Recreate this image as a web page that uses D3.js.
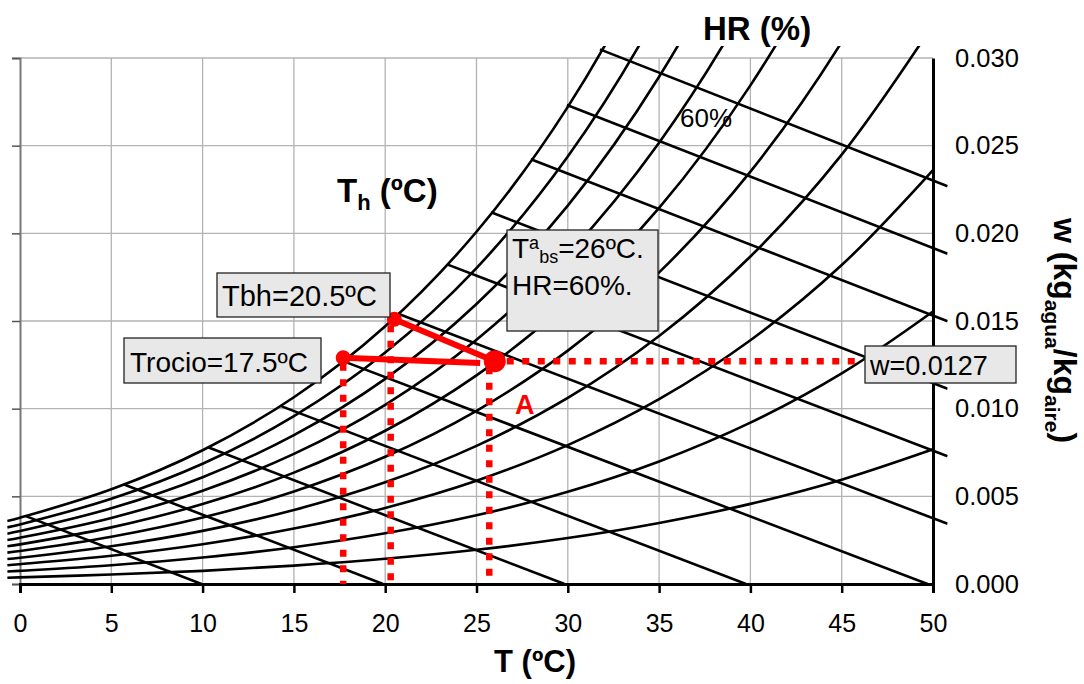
<!DOCTYPE html>
<html>
<head>
<meta charset="utf-8">
<script src="https://cdn.jsdelivr.net/npm/d3@7"></script>
<style>
  body { margin: 0; background: #fff; }
  svg { font-family: "Liberation Sans", Arial, sans-serif; }
  .grid line { stroke: #b3b3b3; stroke-width: 1.3; }
  .psy { fill: none; stroke: #000; stroke-width: 2.6; }
  .box { fill: #e8e8e8; stroke: #222; stroke-width: 1.3; }
</style>
</head>
<body>
<div id="chart"></div>
<script>
// dry bulb temperature grid (ºC) on which the HR curves are read
const tempGrid = [-0.7, 0, 5, 10, 15, 20, 25, 30, 35, 40, 45, 50];

// humidity ratio w (kg agua / kg aire) of each HR curve on tempGrid
const hr10 = [0.00036, 0.00038, 0.00054, 0.00075, 0.00105, 0.00144, 0.00195, 0.00262, 0.00348, 0.00457, 0.00595, 0.00768];
const hr20 = [0.00071, 0.00075, 0.00107, 0.00151, 0.00210, 0.00289, 0.00392, 0.00526, 0.00699, 0.00920, 0.01201, 0.01554];
const hr30 = [0.00107, 0.00113, 0.00161, 0.00227, 0.00316, 0.00434, 0.00589, 0.00792, 0.01054, 0.01390, 0.01819, 0.02361];
const hr40 = [0.00143, 0.00150, 0.00215, 0.00303, 0.00422, 0.00580, 0.00788, 0.01061, 0.01414, 0.01868, 0.02449, 0.03189];
const hr50 = [0.00179, 0.00188, 0.00269, 0.00379, 0.00528, 0.00726, 0.00988, 0.01331, 0.01777, 0.02352, 0.03091, 0.04037];
const hr60 = [0.00215, 0.00226, 0.00323, 0.00456, 0.00635, 0.00874, 0.01190, 0.01605, 0.02145, 0.02844, 0.03747, 0.04909];
const hr70 = [0.00251, 0.00264, 0.00377, 0.00532, 0.00742, 0.01022, 0.01393, 0.01880, 0.02517, 0.03344, 0.04416, 0.05803];
const hr80 = [0.00287, 0.00302, 0.00432, 0.00609, 0.00849, 0.01170, 0.01597, 0.02158, 0.02893, 0.03851, 0.05099, 0.06722];
const hr90 = [0.00323, 0.00340, 0.00486, 0.00686, 0.00957, 0.01320, 0.01802, 0.02438, 0.03274, 0.04367, 0.05795, 0.07666];
const hr100 = [0.00359, 0.00378, 0.00540, 0.00763, 0.01065, 0.01470, 0.02009, 0.02721, 0.03659, 0.04891, 0.06506, 0.08635];

// wet bulb (Th) lines: start on the saturation curve, end on w = 0 or past the right edge
const thStartT = [0.32, 5.70, 10.30, 14.26, 17.70, 20.71, 23.39, 25.80, 27.98, 29.95, 31.76];
const thStartW = [0.00387, 0.00567, 0.00780, 0.01016, 0.01271, 0.01541, 0.01823, 0.02120, 0.02423, 0.02732, 0.03049];
const thEndT = [9.94, 19.88, 29.82, 39.76, 49.70, 50.8, 50.8, 50.8, 50.8, 50.8, 50.8];
const thEndW = [0, 0, 0, 0, 0, 0.00343, 0.00728, 0.01113, 0.01499, 0.01884, 0.02269];

// state points: dew point, wet bulb, A
const pointT = [17.7, 20.5, 26.0];
const pointW = [0.0129, 0.0151, 0.0127];
const dropT = [17.7, 20.3, 25.7];
const wLineEndT = 46;

const xTicks = [0, 5, 10, 15, 20, 25, 30, 35, 40, 45, 50];
const yTicks = [0, 0.005, 0.010, 0.015, 0.020, 0.025, 0.030];

const hrCurves = [hr10, hr20, hr30, hr40, hr50, hr60, hr70, hr80, hr90, hr100];

const width = 1084, height = 684;
const font = '"Liberation Sans", Arial, sans-serif';

const svg = d3.select("#chart")
    .append("svg")
    .attr("width", width)
    .attr("height", height);

const x = d3.scaleLinear().domain([0, 50]).range([20, 933]);
const y = d3.scaleLinear().domain([0, 0.030]).range([584, 58]);

svg.append("defs").append("clipPath")
    .attr("id", "clip")
    .append("rect")
    .attr("x", x(-0.7)).attr("y", 46)
    .attr("width", x(50.8) - x(-0.7)).attr("height", y(0) - 46);

// grid
const grid = svg.append("g").attr("class", "grid");
grid.selectAll(".gx")
    .data(xTicks.slice(1, -1))
    .enter().append("line")
    .attr("x1", d => x(d)).attr("x2", d => x(d))
    .attr("y1", y(0.030)).attr("y2", y(0));
grid.selectAll(".gy")
    .data(yTicks.slice(1))
    .enter().append("line")
    .attr("x1", x(0)).attr("x2", x(50))
    .attr("y1", d => y(d)).attr("y2", d => y(d));

// left axis (ticks only)
const left = svg.append("g")
    .attr("transform", `translate(${x(0)},0)`)
    .call(d3.axisLeft(y).tickValues(yTicks).tickSize(8).tickFormat(""));
left.select(".domain").attr("stroke", "#777").attr("stroke-width", 2);
left.selectAll(".tick line").attr("stroke", "#555").attr("stroke-width", 1.5);

// HR curves and Th lines
const plot = svg.append("g").attr("clip-path", "url(#clip)");

const line = d3.line()
    .x((d, i) => x(tempGrid[i]))
    .y(d => y(d))
    .curve(d3.curveCatmullRom.alpha(0.5));

plot.selectAll(".hr")
    .data(hrCurves)
    .enter().append("path")
    .attr("class", "psy")
    .attr("d", d => line(d));

plot.selectAll(".th")
    .data(thStartT)
    .enter().append("line")
    .attr("class", "psy")
    .attr("x1", (d, i) => x(thStartT[i]))
    .attr("y1", (d, i) => y(thStartW[i]))
    .attr("x2", (d, i) => x(thEndT[i]))
    .attr("y2", (d, i) => y(thEndW[i]));

// bottom axis
const bottom = svg.append("g")
    .attr("transform", `translate(0,${y(0)})`)
    .call(d3.axisBottom(x).tickValues(xTicks).tickSize(9).tickPadding(21).tickFormat(d3.format("d")));
bottom.select(".domain").attr("stroke-width", 3);
bottom.selectAll(".tick line").attr("stroke-width", 2.5);
bottom.selectAll("text").attr("font-size", 25).attr("fill", "#000").attr("font-family", font);

// right axis
const right = svg.append("g")
    .attr("transform", `translate(${x(50)},0)`)
    .call(d3.axisRight(y).tickValues(yTicks).tickSize(0).tickPadding(22).tickFormat(d3.format(".3f")));
right.select(".domain").attr("stroke-width", 3);
right.selectAll("text").attr("font-size", 25.5).attr("fill", "#000").attr("font-family", font);

// red construction lines
const red = "#ff0000";
const dotted = svg.append("g")
    .attr("stroke", red).attr("stroke-width", 6.5).attr("stroke-dasharray", "7,8.5");
dotted.selectAll(".drop")
    .data(dropT)
    .enter().append("line")
    .attr("x1", d => x(d)).attr("x2", d => x(d))
    .attr("y1", (d, i) => y(pointW[i]) + 6).attr("y2", y(0));
dotted.append("line")
    .attr("x1", x(pointT[2]) + 12).attr("x2", x(wLineEndT))
    .attr("y1", y(pointW[2])).attr("y2", y(pointW[2]));

svg.append("line")
    .attr("x1", x(pointT[0])).attr("y1", y(pointW[0]))
    .attr("x2", x(25.2)).attr("y2", y(0.0126))
    .attr("stroke", red).attr("stroke-width", 6);
svg.append("line")
    .attr("x1", x(pointT[1])).attr("y1", y(pointW[1]))
    .attr("x2", x(pointT[2])).attr("y2", y(pointW[2]))
    .attr("stroke", red).attr("stroke-width", 6);

svg.selectAll(".pt")
    .data(pointT)
    .enter().append("circle")
    .attr("cx", d => x(d))
    .attr("cy", (d, i) => y(pointW[i]))
    .attr("r", (d, i) => i === 2 ? 11 : 7.5)
    .attr("fill", red);

// annotation boxes
function box(bx, by, bw, bh) {
    svg.append("rect").attr("class", "box")
        .attr("x", bx).attr("y", by).attr("width", bw).attr("height", bh);
}
box(217, 273, 173, 44);
box(124, 338, 197, 45);
box(507, 230, 151, 101);
box(865, 346, 151, 37);

svg.append("text").attr("x", 222).attr("y", 306).attr("font-size", 29).text("Tbh=20.5ºC");
svg.append("text").attr("x", 130).attr("y", 372).attr("font-size", 28).text("Trocio=17.5ºC");
const t1 = svg.append("text").attr("x", 512).attr("y", 258).attr("font-size", 28);
t1.append("tspan").text("T");
t1.append("tspan").attr("font-size", 18).attr("dy", -9).text("a");
t1.append("tspan").attr("font-size", 18).attr("dy", 14).text("bs");
t1.append("tspan").attr("dy", -5).text("=26ºC.");
svg.append("text").attr("x", 512).attr("y", 295).attr("font-size", 28).text("HR=60%.");
svg.append("text").attr("x", 870).attr("y", 375).attr("font-size", 27).text("w=0.0127");
svg.append("text").attr("x", 515).attr("y", 414).attr("font-size", 27)
    .attr("font-weight", "bold").attr("fill", red).text("A");

// titles
svg.append("text").attr("x", 703).attr("y", 40).attr("font-size", 33)
    .attr("font-weight", "bold").text("HR (%)");
svg.append("text").attr("x", 680).attr("y", 127).attr("font-size", 26).text("60%");
const th = svg.append("text").attr("x", 337).attr("y", 202).attr("font-size", 33).attr("font-weight", "bold");
th.append("tspan").text("T");
th.append("tspan").attr("font-size", 22).attr("dy", 8).text("h");
th.append("tspan").attr("dy", -8).text(" (ºC)");
svg.append("text").attr("x", 535).attr("y", 672).attr("text-anchor", "middle")
    .attr("font-size", 31).attr("font-weight", "bold").text("T (ºC)");

const wt = svg.append("text")
    .attr("transform", "translate(1054,218) rotate(90)")
    .attr("font-size", 32).attr("font-weight", "bold");
wt.append("tspan").text("w (kg");
wt.append("tspan").attr("font-size", 21).attr("dy", 9).text("agua");
wt.append("tspan").attr("dy", -9).text("/kg");
wt.append("tspan").attr("font-size", 21).attr("dy", 9).text("aire");
wt.append("tspan").attr("dy", -9).text(")");
</script>
</body>
</html>
